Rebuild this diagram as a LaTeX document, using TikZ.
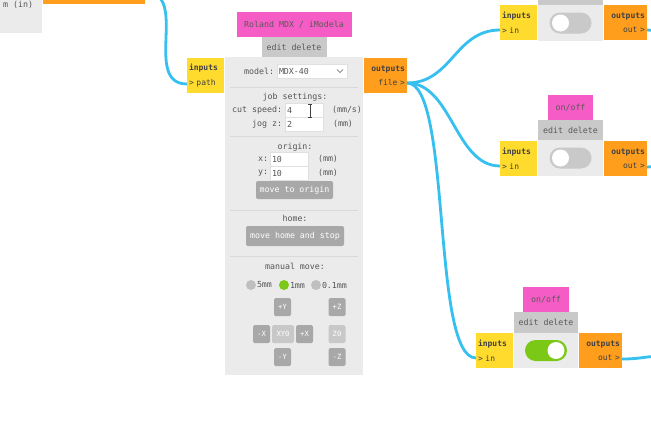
\documentclass[tikz,border=0pt]{standalone}
\usepackage{fontspec}
\setmonofont{DejaVu Sans Mono}
\usetikzlibrary{positioning}

\definecolor{modpink}{HTML}{F65CC5}
\definecolor{inyellow}{HTML}{FFDB2E}
\definecolor{outorange}{HTML}{FF9D1C}
\definecolor{panelgrey}{HTML}{EBEBEB}
\definecolor{tabgrey}{HTML}{C9C9C9}
\definecolor{btngrey}{HTML}{A8A8A8}
\definecolor{btnlight}{HTML}{C8C8C8}
\definecolor{sepgrey}{HTML}{DADADA}
\definecolor{wirecol}{HTML}{35C0F0}
\definecolor{togglegreen}{HTML}{7CC817}
\definecolor{labelgrey}{HTML}{555555}

\begin{document}
\begin{tikzpicture}[x=1pt, y=-1pt,
every node/.style={inner sep=0pt, outer sep=0pt},
font=\ttfamily\fontsize{8.3}{10}\selectfont, text=labelgrey,
panel/.style={fill=panelgrey, anchor=north west},
tab/.style={fill=tabgrey, minimum height=20pt, text=black!65},
title/.style={fill=modpink, minimum height=25pt, text=black!65},
inport/.style={fill=inyellow, minimum height=35pt, text width=33pt, inner xsep=2pt,
  align=left, font=\ttfamily\fontsize{8}{14.5}\selectfont, text=black!75},
outport/.style={fill=outorange, minimum height=35pt, text width=39pt, inner xsep=2pt,
  align=right, font=\ttfamily\fontsize{8}{14.5}\selectfont, text=black!75},
field/.style={fill=white, draw=black!12, anchor=west, minimum height=14pt,
  text width=34pt, inner xsep=2pt, align=left},
btn/.style={fill=btngrey, rounded corners=2pt, text=white},
jog/.style={fill=btngrey, rounded corners=1.5pt, text=white, minimum width=17pt,
  minimum height=18pt, font=\ttfamily\fontsize{7.2}{8}\selectfont},
radio/.style={circle, fill=black!25, minimum size=10pt},
radiolbl/.style={anchor=west, font=\ttfamily\fontsize{8.3}{10}\selectfont},
track/.style={rounded corners=10.5pt, fill=tabgrey, minimum width=42pt, minimum height=21pt},
knob/.style={circle, fill=white, minimum size=17pt},
sepline/.style={draw=sepgrey, line width=0.8pt},
cable/.style={draw=wirecol, line width=2.8pt}]
\useasboundingbox (0,0) rectangle (651,434);

% module cut off at the top left
\node[panel, minimum width=42pt, minimum height=43pt] (leftbody) at (0,-10) {};
\node[anchor=east] (leftlbl) at (33,4.5) {m (in)};
\node[fill=outorange, anchor=north west, minimum width=102pt, minimum height=24pt] (leftout) at (43,-20) {};

% Roland MDX module
\node[panel, minimum width=138pt, minimum height=318pt] (mainbody) at (225,57) {};
\node[tab, minimum width=65pt, above=0pt of mainbody] (maintab) {edit delete};
\node[title, minimum width=115pt, above=0pt of maintab] (maintitle) {Roland MDX / iModela};
\node[inport, below left=1pt and 1pt of mainbody.north west] (mainin) {\textbf{inputs}\\> path};
\node[outport, below right=1pt and 1pt of mainbody.north east] (mainout) {\textbf{outputs}\\file >};

\node[anchor=east] (lblmodel) at (274,71) {model:};
\node[field, text width=66pt] (selmodel) at (277,71) {MDX-40};
\draw[labelgrey, line width=0.7pt] (337,69.5) -- (340,72.5) -- (343,69.5);
\draw[sepline] (230,87) -- (358,87);

\node (lbljob) at (295,97) {job settings:};
\node[anchor=east] (lblcut) at (282,110) {cut speed:};
\node[field] (fldcut) at (285,110) {4};
\node (unitcut) at (347,110) {(mm/s)};
\node[anchor=east] (lbljog) at (282,124) {jog z:};
\node[field] (fldjog) at (285,124) {2};
\node (unitjog) at (343,124) {(mm)};
\draw[black!75, line width=0.6pt] (308,104) -- (312,104) (310,104) -- (310,117) (308,117) -- (312,117);
\draw[sepline] (230,136) -- (358,136);

\node (lblorigin) at (295,147) {origin:};
\node[anchor=east] (lblx) at (268,159) {x:};
\node[field] (fldx) at (270,159) {10};
\node (unitx) at (328,159) {(mm)};
\node[anchor=east] (lbly) at (268,173) {y:};
\node[field] (fldy) at (270,173) {10};
\node (unity) at (328,173) {(mm)};
\node[btn, minimum width=77pt, minimum height=18pt] (btnorigin) at (294.5,190) {move to origin};
\draw[sepline] (230,210) -- (358,210);

\node (lblhome) at (295,218) {home:};
\node[btn, minimum width=98pt, minimum height=20pt] (btnhome) at (295,236) {move home and stop};
\draw[sepline] (230,256) -- (358,256);

\node (lblmanual) at (295,266) {manual move:};
\node[radio] (radiofive) at (251,285) {};
\node[radiolbl] (lblfive) at (257,285) {5mm};
\node[radio, fill=togglegreen] (radioone) at (284,285) {};
\node[radiolbl] (lblone) at (290,285) {1mm};
\node[radio] (radiotenth) at (316,285) {};
\node[radiolbl] (lbltenth) at (322,285) {0.1mm};

\foreach \jn/\jx/\jy/\jt in {yplus/282.5/307/+Y, xminus/261.5/334/-X, xplus/304.5/334/+X,
  yminus/282.5/357/-Y, zplus/337/307/+Z, zminus/337/357/-Z}
  \node[jog] (\jn) at (\jx,\jy) {\jt};
\node[jog, fill=btnlight, minimum width=22pt] (xyzero) at (283,334) {XY0};
\node[jog, fill=btnlight] (zzero) at (337,334) {Z0};

% on/off modules
\node[panel, minimum width=65pt, minimum height=36pt] (topbody) at (538,5) {};
\node[tab, minimum width=65pt, above=0pt of topbody] (toptab) {};
\node[inport, below left=0pt and 1pt of topbody.north west] (topin) {\textbf{inputs}\\> in};
\node[outport, below right=0pt and 1pt of topbody.north east] (topout) {\textbf{outputs}\\out >};
\node[track] (toptrack) at (topbody.center) {};
\node[knob] (topknob) at ([xshift=11pt]toptrack.west) {};

\node[panel, minimum width=65pt, minimum height=36pt] (midbody) at (538,140) {};
\node[tab, minimum width=65pt, above=0pt of midbody] (midtab) {edit delete};
\node[title, minimum width=45pt, above=0pt of midtab] (midtitle) {on/off};
\node[inport, below left=1pt and 1pt of midbody.north west] (midin) {\textbf{inputs}\\> in};
\node[outport, below right=1pt and 1pt of midbody.north east] (midout) {\textbf{outputs}\\out >};
\node[track] (midtrack) at (midbody.center) {};
\node[knob] (midknob) at ([xshift=11pt]midtrack.west) {};

\node[panel, minimum width=64pt, minimum height=35pt] (lowbody) at (514,333) {};
\node[tab, minimum width=64pt, minimum height=21pt, above=0pt of lowbody] (lowtab) {edit delete};
\node[title, minimum width=46pt, above=0pt of lowtab] (lowtitle) {on/off};
\node[inport, below left=0pt and 1pt of lowbody.north west] (lowin) {\textbf{inputs}\\> in};
\node[outport, below right=0pt and 1pt of lowbody.north east] (lowout) {\textbf{outputs}\\out >};
\node[track, fill=togglegreen] (lowtrack) at (lowbody.center) {};
\node[knob] (lowknob) at ([xshift=-11pt]lowtrack.east) {};

% wires
\coordinate (leftport) at ([yshift=12pt]leftout.south east);
\coordinate (pathport) at ([yshift=9pt]mainin.south west);
\coordinate (fileport) at ([yshift=10pt]mainout.south east);
\coordinate (topinport) at ([yshift=10pt]topin.south west);
\coordinate (midinport) at ([yshift=10pt]midin.south west);
\coordinate (lowinport) at ([yshift=10pt]lowin.south west);
\coordinate (topoutport) at ([yshift=10pt]topout.south east);
\coordinate (midoutport) at ([yshift=9pt]midout.south east);
\coordinate (lowoutport) at ([yshift=9pt]lowout.south east);
\coordinate (topedge) at (665,31);
\coordinate (midedge) at (665,166);
\coordinate (lowedge) at (665,356);

\draw[cable] (leftport) .. controls +(45,0) and +(-45,0) .. (pathport);
\draw[cable] (fileport) .. controls +(45,0) and +(-45,0) .. (topinport);
\draw[cable] (fileport) .. controls +(45,0) and +(-45,0) .. (midinport);
\draw[cable] (fileport) .. controls +(45,0) and +(-45,0) .. (lowinport);
\draw[cable] (topoutport) -- (topedge);
\draw[cable] (midoutport) -- (midedge);
\draw[cable] (lowoutport) .. controls +(20,0) and +(-20,0) .. (lowedge);
\end{tikzpicture}
\end{document}
